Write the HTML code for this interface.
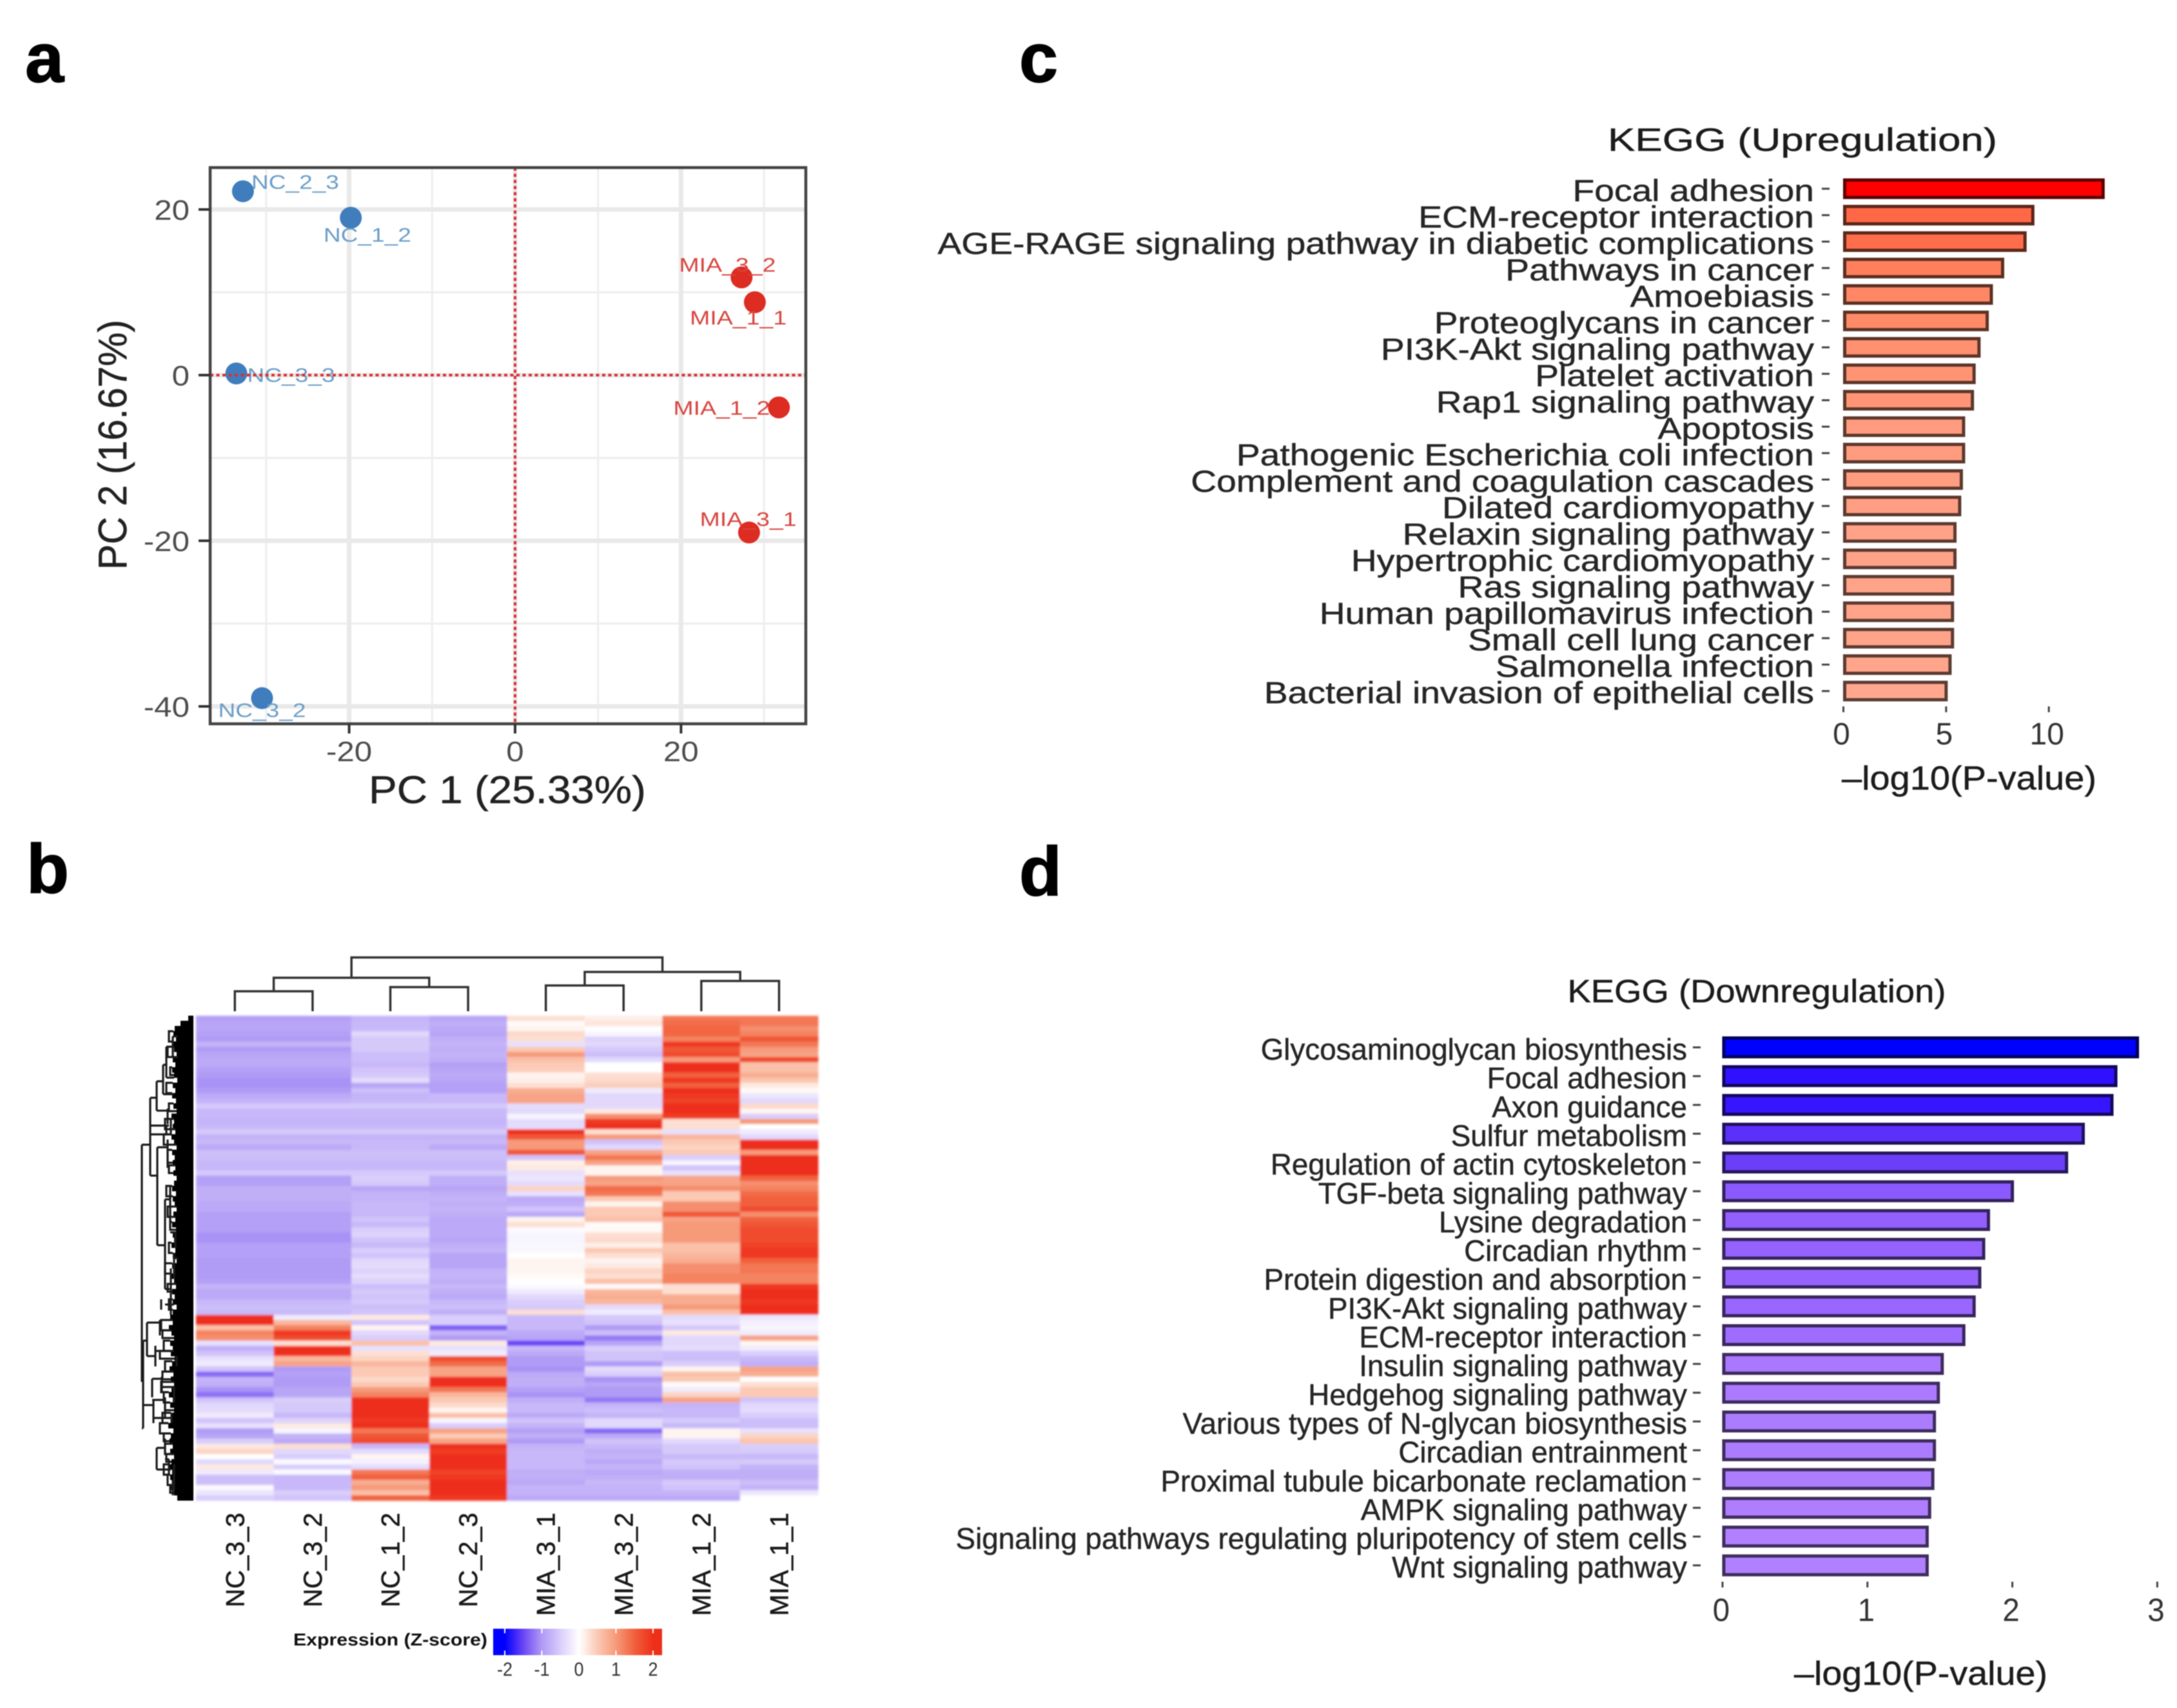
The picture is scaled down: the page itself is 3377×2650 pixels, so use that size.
<!DOCTYPE html>
<html lang="en">
<head>
<meta charset="utf-8">
<title>PCA, heatmap and KEGG enrichment figure</title>
<style>
html,body{margin:0;padding:0;background:#fff;}
svg{display:block;font-family:"Liberation Sans",Arial,sans-serif;}
#figure-root{filter:blur(0.8px);}
</style>
</head>
<body>
<svg id="figure" width="3377" height="2650" viewBox="0 0 3377 2650" xmlns="http://www.w3.org/2000/svg">
<defs>
<filter id="heat-blur" x="-2%" y="-2%" width="104%" height="104%"><feGaussianBlur stdDeviation="1.6 1.9"/></filter>
<clipPath id="pca-clip"><rect x="326" y="260" width="924" height="863"/></clipPath>
<linearGradient id="legend-gradient" gradientUnits="userSpaceOnUse" x1="765" x2="1027" y1="0" y2="0"></linearGradient>
</defs>
<rect width="3377" height="2650" fill="#ffffff"/>
<g id="figure-root">
<text transform="translate(39,127) scale(1,1)" font-size="108" font-weight="700" fill="#000" stroke="#000" stroke-width="1.5">a</text>
<text transform="translate(41,1385) scale(1,1)" font-size="108" font-weight="700" fill="#000" stroke="#000" stroke-width="1.5">b</text>
<text transform="translate(1581,127) scale(1,1)" font-size="108" font-weight="700" fill="#000" stroke="#000" stroke-width="1.5">c</text>
<text transform="translate(1581,1389) scale(1,1)" font-size="108" font-weight="700" fill="#000" stroke="#000" stroke-width="1.5">d</text>

<g id="panel-a">
<g id="pca-grid" clip-path="url(#pca-clip)"></g>
<g id="pca-points"></g>
<g id="pca-guides" clip-path="url(#pca-clip)"></g>
<rect x="326" y="260" width="924" height="863" fill="none" stroke="#444" stroke-width="4.5"/>
<g id="pca-axes"></g>
<text x="787" y="1246" text-anchor="middle" font-size="60" fill="#222" stroke="#222" stroke-width=".5" textLength="430" lengthAdjust="spacingAndGlyphs">PC 1 (25.33%)</text>
<text transform="translate(196,690) rotate(-90)" text-anchor="middle" font-size="62" fill="#222" stroke="#222" stroke-width=".5" textLength="388" lengthAdjust="spacingAndGlyphs">PC 2 (16.67%)</text>
</g>

<g id="panel-b">
<g id="heat-cells" filter="url(#heat-blur)"></g>
<g id="col-tree" fill="none" stroke="#333" stroke-width="3.5"></g>
<g id="row-tree" fill="none" stroke="#1c1c1c" stroke-width="3.2"></g>
<g id="col-labels"></g>
<text x="455" y="2553" font-size="27" font-weight="700" fill="#111" textLength="301" lengthAdjust="spacingAndGlyphs">Expression (Z-score)</text>
<rect x="765" y="2527" width="262" height="41" fill="url(#legend-gradient)"/>
<g id="legend-ticks"></g>
</g>

<g id="panel-c">
<text x="2796" y="234" text-anchor="middle" font-size="50" fill="#1c1c1c" stroke="#1c1c1c" stroke-width=".5" textLength="604" lengthAdjust="spacingAndGlyphs">KEGG (Upregulation)</text>
<g id="up-bars"></g>
<g id="up-axis"></g>
<text x="2857" y="1225" font-size="52" fill="#1c1c1c" stroke="#1c1c1c" stroke-width=".5" textLength="395" lengthAdjust="spacingAndGlyphs">–log10(P-value)</text>
</g>

<g id="panel-d">
<text x="2725" y="1555" text-anchor="middle" font-size="50" fill="#1c1c1c" stroke="#1c1c1c" stroke-width=".5" textLength="587" lengthAdjust="spacingAndGlyphs">KEGG (Downregulation)</text>
<g id="down-bars"></g>
<g id="down-axis"></g>
<text x="2783" y="2614" font-size="52" fill="#1c1c1c" stroke="#1c1c1c" stroke-width=".5" textLength="393" lengthAdjust="spacingAndGlyphs">–log10(P-value)</text>
</g>
</g>
</svg>

<script>
/* ---------- Panel a data ---------- */
const pcaSamples = ["NC_2_3","NC_1_2","NC_3_3","NC_3_2","MIA_3_2","MIA_1_1","MIA_1_2","MIA_3_1"];
const pcaPC1 = [-32.8,-19.8,-33.6,-30.5,27.3,28.9,31.8,28.2];
const pcaPC2 = [22.2,19.0,0.2,-39.0,11.8,8.8,-3.9,-19.0];
const pcaGroups = ["NC","NC","NC","NC","MIA","MIA","MIA","MIA"];
const pcaLabelShiftPC1 = [6.3,2.0,6.6,0,-1.7,-2.0,-6.9,-0.1];
const pcaLabelShiftPC2 = [0.3,-2.9,-1.0,-2.3,0.7,-2.7,-0.9,0.8];
const pcaTicksX = [-20,0,20];
const pcaTicksY = [20,0,-20,-40];
const pcaMinorX = [-30,-10,10,30];
const pcaMinorY = [10,-10,-30];

/* ---------- Panel b data ---------- */
const heatSamples = ["NC_3_3","NC_3_2","NC_1_2","NC_2_3","MIA_3_1","MIA_3_2","MIA_1_2","MIA_1_1"];
const heatValues = [
[-.95,-.95,-.75,-.9,.3,.15,1.3,1.3],
[-.9,-.9,-.7,-.8,.05,.25,1.4,1.3],
[-.9,-.9,-.7,-.85,.1,0,1.45,1.1],
[-.95,-.95,-.4,-.9,.35,-.1,1.45,1.2],
[-1,-1,-.55,-.8,.3,-.45,1.2,1.6],
[-.75,-.75,-.55,-.75,-.3,-.4,1.9,1.3],
[-1,-1,-.55,-.8,.5,-.55,1.6,1],
[-.9,-.9,-.65,-.75,1,-.65,1.7,.9],
[-.85,-.85,-.65,-.8,.6,-.4,1,1.75],
[-.85,-.85,-.7,-.95,.5,0,2,.6],
[-.95,-.95,-.6,-.9,.45,0,2,.6],
[-1,-1,-.55,-.85,.1,.3,1.5,.8],
[-1.05,-1.05,-.35,-.9,.15,.35,1.9,.55],
[-1.05,-1.05,-.9,-.95,.3,.45,1.5,.2],
[-1,-1,-.65,-.95,.8,-.2,2,.05],
[-.85,-.85,-.75,-.7,.9,-.4,1.9,-.25],
[-.75,-.75,-.7,-.7,.9,-.4,1.8,-.4],
[-.55,-.55,-.55,-.55,-.35,-.4,2,.35],
[-.7,-.7,-.7,-.7,-.4,.2,2,.1],
[-.7,-.7,-.7,-.7,-.1,1.1,1.85,-.5],
[-.75,-.75,-.75,-.75,-.35,1.9,.3,1],
[-.7,-.7,-.7,-.7,-.35,2,.3,0],
[-.55,-.55,-.55,-.55,2,.3,-.3,-.2],
[-.75,-.75,-.75,-.75,1.6,1,.7,-.4],
[-.7,-.7,-.7,-.7,1,-.6,.5,2],
[-.85,-.85,-.7,-.85,1,-.4,.4,2],
[-.65,-.65,-.65,-.65,1.6,.9,.5,1],
[-.65,-.65,-.65,-.65,-.6,1.3,-.5,2],
[-.7,-.7,-.7,-.7,.15,.9,-.1,2],
[-.7,-.7,-.7,-.7,.2,.1,-.6,2],
[-.55,-.55,-.55,-.55,-.3,.1,-.3,2],
[-.95,-.95,-.5,-.8,-.25,1,.9,1.5],
[-.95,-.95,-.55,-.8,-.35,.9,.9,1.1],
[-.8,-.8,-.9,-.9,.4,1.4,1.1,1.2],
[-.8,-.8,-.75,-.8,-.3,1.3,.5,1.4],
[-.8,-.8,-.75,-.75,-.85,.5,.5,1.5],
[-.85,-.85,-.7,-.8,-.8,.1,1.1,1.5],
[-.85,-.85,-.7,-.75,-.6,.5,1.1,1.7],
[-.95,-.95,-.7,-.8,-.85,.5,1.6,1.1],
[-.95,-.95,-.6,-.85,.1,.6,.9,1.5],
[-.95,-.95,-.7,-.85,.3,.05,1,1.6],
[-.95,-.95,-.5,-.85,-.05,.05,1,1.7],
[-1.05,-1.05,-.45,-.85,-.1,.3,1,1.7],
[-1.05,-1.05,-.6,-.9,-.1,.35,1,1.7],
[-.95,-.95,-.7,-.8,-.08,.15,.6,1.8],
[-.95,-.95,-.5,-.75,-.08,.5,.6,1.9],
[-.95,-.95,-.6,-.9,0,.3,.7,1.9],
[-1,-1,-.4,-.9,.1,.1,.8,1.5],
[-1,-1,-.35,-.9,.1,.2,1.1,1.3],
[-1,-1,-.45,-.75,.1,.4,1.1,1.3],
[-1,-1,-.35,-.75,.05,.3,1.2,1.2],
[-.95,-.95,-.45,-.8,0,.6,1.2,1.2],
[-.75,-.75,-.65,-.7,-.05,.05,.3,1.9],
[-.85,-.85,-.55,-.8,-.2,.7,.3,2],
[-.85,-.85,-.6,-.85,-.4,.8,.8,2],
[-.7,-.7,-.55,-.7,-.5,.7,.8,1.9],
[-.65,-.65,-.65,-.65,-.55,-.35,1,2],
[-.7,-.7,-.6,-.8,.3,-.2,.6,2],
[2,-.2,.2,-.5,-.7,-.55,-.35,-.25],
[2,.7,-.6,-.5,-.7,-.6,-.3,-.15],
[.6,1.2,.1,-1.35,-.7,-1,-.55,-.1],
[1.2,1.9,-.4,-.75,-.85,-.65,.2,-.2],
[1.1,1.7,-.5,-1,-.9,-1.2,-.4,.9],
[-.3,.3,.6,.2,-1.5,-.9,-.4,.1],
[-.8,2,-.3,-.3,-.7,-.5,-.35,-.2],
[-.6,2,.3,-.2,-.85,-.6,-.65,-.5],
[-.3,.7,.4,1.7,-1,-.6,-.65,-.7],
[-.2,.9,.7,1.4,-1,-1,-.5,-.8],
[-.6,-1,.5,.9,-1.05,-.35,.1,.9],
[-1.3,-.95,.5,.9,-.85,-.5,.6,.8],
[-.75,-1,.35,2,-.8,-1.05,.5,0],
[-.8,-1,.5,2,-.8,-.9,.05,.3],
[-1.05,-.9,1,1.3,-.95,-1,-.2,.5],
[-1.25,-.9,1.2,.7,-1.05,-1,.4,.5],
[-.6,-.5,2,.5,-.8,-1.2,.9,-.6],
[-.4,-.55,2,.35,-.7,-.75,-.75,-.4],
[-.35,-.55,2,.1,-.7,-.65,-.7,-.35],
[-.2,-.7,2,.6,-.85,-.75,-.7,-.5],
[-.6,-.45,1.9,-.1,-.6,-.4,-.55,-.65],
[-.3,.2,2,-.5,-.75,-.4,-.7,-.65],
[-1,-.1,1.3,.9,-.95,-1.3,.1,-.3],
[-.9,-.75,1.6,.5,-.8,-.85,.1,.4],
[-.5,-.85,1.7,.9,-1,-.6,-.4,.55],
[.2,.3,-.7,2,-.75,-.7,-.55,-.5],
[.4,-.4,-.35,1.85,-.7,-.8,-.55,-.55],
[0,-.5,.1,2,-.7,-.75,-.7,-.7],
[-.4,-.05,-.15,2,-.7,-.85,-.55,-.55],
[.2,-.5,-.35,2,-.7,-.75,-.6,-.75],
[-.2,-.05,1.3,1.8,-.8,-.85,-.8,-.8],
[-.65,-.7,1.5,1.9,-.8,-.8,-.8,-.8],
[-.65,-.7,.8,2,-.85,-.7,-.55,-.65],
[-.05,-.7,1,2,-.75,-.75,-.6,-.75],
[-.25,-.5,.6,2,-.75,-.75,-.75,-.25],
[-.5,-.6,1.5,1.9,-.85,-.85,-.85,0]
];
const legendTicks = [-2,-1,0,1,2];
/* column tree: leaf indexes 0-7, merged nodes numbered from 8 upward, heights in tree units */
const colMergeLeft = [0,2,8,4,6,11,10];
const colMergeRight = [1,3,9,5,7,12,13];
const colMergeHeight = [31,37.5,52,40,47,61,83.5];
/* row tree: depth = distance from heatmap edge, positions in row units */
const rowLeafDepth = [8,20,29,31,27,32,30,26,32,28,33,30,25,32,28,33,27,31,26,34,30,32,28,34,30,26,33,29,32,28,31,26,30,33,27,32,29,26,31,28,33,27,32,30,34,28,32,26,33,29,34,30,27,33,29,32,26,32,36,32,38,34,30,36,32,35,29,33,37,31,35,30,34,38,32,36,30,35,33,39,31,35,37,32,36,30,34,39,33,36,31,35,30,25];
const rowTreeDepth = [80,67,57,47,42,32,40,56,40,44,36,35,30,78,72,52,59,64,49,62,44,57,44,32,35,36,28,26,30,34,38,30,42,50];
const rowTreeTop = [25,15.9,12.7,9.5,6,4,18,25.5,24,35.6,33,49,46,63,59.5,59,64,70.4,70,74.5,74,83.8,82,90,20,38,42,66,72,77,86,87,21.3,55];
const rowTreeBottom = [71,31,18.4,15.2,12,8,21,44.5,29.5,53,40,58,51,80,66,62,68,74,73,79,78,88,85,93,23.2,41,45,68,75,79,89,92,23.2,57];
const treeLinkRow = [25,15.9,12.7,9.5,6,12,15.2,18.4,31,25.5,44.5,35.6,53,63,59.5,66,70.4,74.5,80,75.5,83.8,88,4,8,23,42,47,65,72,78,86,91,21.3,56];
const treeLinkFrom = [80,67,57,47,42,42,47,57,67,56,56,44,44,78,72,72,64,64,80,78,57,57,32,32,67,36,30,59,49,62,44,35,67,44];
const treeLinkTo = [67,57,47,42,32,30,30,40,56,40,44,36,35,72,52,59,49,44,78,62,44,35,24,24,38,26,24,30,30,34,38,30,38,30];
/* short twigs just outside the solid leaf block, in row units and depth units */
const twigRow = [3,6,10,13,17,20,23,26,29,33,37,40,44,48,52,55,59,61,63,65,67,69,71,73,75,77,79,81,83,85,87,89,91];
const twigDepth = [38,40,36,42,38,44,46,40,38,42,40,36,38,44,40,38,50,48,46,52,44,48,50,46,44,48,52,46,44,42,46,40,36];
const twigSpan = [2,2,1.5,2,1.5,2,2,2.5,1.5,2,2,1.5,2,2,1.5,2,2,1.5,2,1.5,2,1.5,2,2,1.5,2,2,1.5,2,1.5,2,2,1.5];

/* ---------- Panel c data ---------- */
const upTerms = ["Focal adhesion","ECM-receptor interaction","AGE-RAGE signaling pathway in diabetic complications","Pathways in cancer","Amoebiasis","Proteoglycans in cancer","PI3K-Akt signaling pathway","Platelet activation","Rap1 signaling pathway","Apoptosis","Pathogenic Escherichia coli infection","Complement and coagulation cascades","Dilated cardiomyopathy","Relaxin signaling pathway","Hypertrophic cardiomyopathy","Ras signaling pathway","Human papillomavirus infection","Small cell lung cancer","Salmonella infection","Bacterial invasion of epithelial cells"];
const upValues = [12.64,9.22,8.84,7.75,7.2,7.0,6.6,6.36,6.28,5.85,5.85,5.74,5.66,5.43,5.43,5.31,5.31,5.31,5.19,5.0];
const upTicks = [0,5,10];

/* ---------- Panel d data ---------- */
const downTerms = ["Glycosaminoglycan biosynthesis","Focal adhesion","Axon guidance","Sulfur metabolism","Regulation of actin cytoskeleton","TGF-beta signaling pathway","Lysine degradation","Circadian rhythm","Protein digestion and absorption","PI3K-Akt signaling pathway","ECM-receptor interaction","Insulin signaling pathway","Hedgehog signaling pathway","Various types of N-glycan biosynthesis","Circadian entrainment","Proximal tubule bicarbonate reclamation","AMPK signaling pathway","Signaling pathways regulating pluripotency of stem cells","Wnt signaling pathway"];
const downValues = [2.863,2.714,2.687,2.489,2.374,2.0,1.835,1.802,1.775,1.736,1.665,1.516,1.489,1.462,1.462,1.451,1.429,1.412,1.412];
const downTicks = [0,1,2,3];

/* ---------- Helpers ---------- */
const NS = "http://www.w3.org/2000/svg";
function node(tag, parent, attrs) {
  const e = document.createElementNS(NS, tag);
  for (const k in attrs) e.setAttribute(k, attrs[k]);
  parent.appendChild(e);
  return e;
}
function hexRgb(h) { return [parseInt(h.slice(1,3),16),parseInt(h.slice(3,5),16),parseInt(h.slice(5,7),16)]; }
function ramp(domain, colors) {
  return function (v) {
    if (v <= domain[0]) return colors[0];
    for (let i = 1; i < domain.length; i++) {
      if (v <= domain[i]) {
        const t = (v - domain[i-1]) / (domain[i] - domain[i-1]);
        const a = hexRgb(colors[i-1]), b = hexRgb(colors[i]);
        return "rgb(" + a.map((c,j) => Math.round(c + (b[j]-c)*t)).join(",") + ")";
      }
    }
    return colors[colors.length-1];
  };
}
function darken(c, f) {
  const m = c.startsWith("#") ? hexRgb(c) : c.match(/\d+/g).map(Number);
  return "rgb(" + m.map(x => Math.round(x*f)).join(",") + ")";
}
const heatDomain = [-2,-1.5,-1,-.75,-.5,-.25,0,.5,1,1.5,2];
const heatColors = ["#0000ff","#6a45f5","#b09bf5","#c4b3f8","#d9cefb","#ece6fd","#ffffff","#fbc9b4","#f69a7a","#f1603c","#ee2f1a"];
const heatColor = ramp(heatDomain, heatColors);
const upColor = ramp([5,7,9,10,12.64],["#ffa88f","#ff8a68","#ff6c4a","#ff5a38","#ff0000"]);
const downColor = ramp([1.41,1.8,2,2.4,2.7,2.86],["#b080ff","#9561ff","#8b5aff","#6a3cf8","#3513ff","#0000ff"]);

/* ---------- Panel a ---------- */
const pcaX = v => 799 + v * 12.87;
const pcaY = v => 582 - v * 12.85;
const pcaGrid = document.getElementById("pca-grid");
pcaMinorX.forEach(v => {
  const l = node("line", pcaGrid, {x1:pcaX(v),x2:pcaX(v),y1:260,y2:1123,stroke:"#eeeeee","stroke-width":3});
  
  
});
pcaMinorY.forEach(v => {
  const l = node("line", pcaGrid, {x1:326,x2:1250,y1:pcaY(v),y2:pcaY(v),stroke:"#eeeeee","stroke-width":3});
  
  
});
pcaTicksX.forEach(v => {
  const l = node("line", pcaGrid, {x1:pcaX(v),x2:pcaX(v),y1:260,y2:1123,stroke:"#e9e9e9","stroke-width":7});
  
  
});
pcaTicksY.forEach(v => {
  const l = node("line", pcaGrid, {x1:326,x2:1250,y1:pcaY(v),y2:pcaY(v),stroke:"#e9e9e9","stroke-width":7});
  
  
});
const pcaPointsG = document.getElementById("pca-points");
pcaSamples.forEach((s,i) => {
  const isNC = pcaGroups[i] === "NC";
  const p = node("circle", pcaPointsG, {cx:pcaX(pcaPC1[i]),cy:pcaY(pcaPC2[i]),r:17,fill:isNC?"#3f7dbd":"#dd2c22"});
  
  
  const t = node("text", pcaPointsG, {x:pcaX(pcaPC1[i]+pcaLabelShiftPC1[i]),y:pcaY(pcaPC2[i]+pcaLabelShiftPC2[i]),"text-anchor":"middle","font-size":31,fill:isNC?"#6b9dc8":"#d8443e",textLength:isNC?136:150,lengthAdjust:"spacingAndGlyphs"});
  t.textContent = s;
  
  
});
const guides = document.getElementById("pca-guides");
const gv = node("line", guides, {x1:pcaX(0),x2:pcaX(0),y1:260,y2:1123,stroke:"#de2d32","stroke-width":4,"stroke-dasharray":"5 4.5"});


const gh = node("line", guides, {x1:326,x2:1250,y1:pcaY(0),y2:pcaY(0),stroke:"#de2d32","stroke-width":4,"stroke-dasharray":"5 4.5"});


const pcaAxes = document.getElementById("pca-axes");
pcaTicksX.forEach(v => {
  const l = node("line", pcaAxes, {x1:pcaX(v),x2:pcaX(v),y1:1123,y2:1138,stroke:"#333","stroke-width":4});
  
  
  const t = node("text", pcaAxes, {transform:"translate("+pcaX(v)+",1181) scale(1.12,1)","text-anchor":"middle","font-size":44,fill:"#4d4d4d"});
  t.textContent = String(v);
  
  
});
pcaTicksY.forEach(v => {
  const l = node("line", pcaAxes, {x1:308,x2:326,y1:pcaY(v),y2:pcaY(v),stroke:"#333","stroke-width":4});
  
  
  const t = node("text", pcaAxes, {transform:"translate(294,"+(pcaY(v)+16)+") scale(1.12,1)","text-anchor":"end","font-size":44,fill:"#4d4d4d"});
  t.textContent = String(v);
  
  
});

/* ---------- Panel b ---------- */
const heatLeft = 304, colStep = 120.6, heatTop = 1576, rowStep = 8;
const colX = i => heatLeft + i * colStep;
const colCenter = i => colX(i) + colStep / 2;
const rowY = r => heatTop + r * rowStep;
const cellsG = document.getElementById("heat-cells");
heatValues.forEach((row, r) => {
  row.forEach((z, c) => {
    const cell = node("rect", cellsG, {x:colX(c),y:rowY(r),width:colStep+0.5,height:rowStep+0.5,fill:heatColor(z),"shape-rendering":"crispEdges"});
    
    
  });
});
const colLabelsG = document.getElementById("col-labels");
heatSamples.forEach((s,i) => {
  const t = node("text", colLabelsG, {transform:"translate("+(colCenter(i)+14)+",2347) rotate(-90)","text-anchor":"end","font-size":40,fill:"#1a1a1a",stroke:"#1a1a1a","stroke-width":.6});
  t.textContent = s;
  
  
});
/* column dendrogram */
const colTreeBase = 1569;
const colTreeY = h => colTreeBase - h;
const colTree = document.getElementById("col-tree");
const treeNodes = heatSamples.map((s,i) => ({x:colCenter(i),h:0}));
colMergeHeight.forEach((h,m) => {
  const a = treeNodes[colMergeLeft[m]], b = treeNodes[colMergeRight[m]];
  const pth = node("path", colTree, {d:"M"+a.x+" "+colTreeY(a.h)+"V"+colTreeY(h)+"H"+b.x+"V"+colTreeY(b.h)});
  
  
  treeNodes.push({x:(a.x+b.x)/2,h:h});
});
/* row dendrogram */
const rowTreeEdge = 300;
const depthX = d => rowTreeEdge - d;
const rowTree = document.getElementById("row-tree");
rowLeafDepth.forEach((d,r) => {
  const l = node("line", rowTree, {x1:depthX(d),x2:rowTreeEdge,y1:rowY(r)+4,y2:rowY(r)+4,"stroke-width":8.4,stroke:"#000"});
  
  
});
twigRow.forEach((r,i) => {
  const pth = node("path", rowTree, {d:"M"+depthX(rowLeafDepth[Math.floor(r)])+" "+rowY(r)+"H"+depthX(twigDepth[i])+"V"+rowY(r+twigSpan[i])+"H"+depthX(rowLeafDepth[Math.min(93,Math.floor(r+twigSpan[i]))])});
  
  
});
rowTreeDepth.forEach((d,i) => {
  const l = node("line", rowTree, {x1:depthX(d),x2:depthX(d),y1:rowY(rowTreeTop[i]),y2:rowY(rowTreeBottom[i])});
  
  
});
treeLinkRow.forEach((r,i) => {
  const l = node("line", rowTree, {x1:depthX(treeLinkFrom[i]),x2:depthX(treeLinkTo[i]),y1:rowY(r),y2:rowY(r)});
  
  
});
/* legend */
const legendX = z => 898 + z * 57.5;
const grad = document.getElementById("legend-gradient");
const legendMinZ = (765 - 898) / 57.5, legendMaxZ = (1027 - 898) / 57.5;
heatDomain.forEach(z => {
  const st = node("stop", grad, {offset:Math.max(0,Math.min(1,(z-legendMinZ)/(legendMaxZ-legendMinZ))),"stop-color":heatColor(z)});
  
  
});
const legendG = document.getElementById("legend-ticks");
legendTicks.forEach(z => {
  const a = node("line", legendG, {x1:legendX(z),x2:legendX(z),y1:2527,y2:2534,stroke:"#fff","stroke-width":2});
  
  
  const b = node("line", legendG, {x1:legendX(z),x2:legendX(z),y1:2561,y2:2568,stroke:"#fff","stroke-width":2});
  
  
  const t = node("text", legendG, {transform:"translate("+legendX(z)+",2600) scale(.9,1)","text-anchor":"middle","font-size":30,fill:"#333"});
  t.textContent = String(z);
  
  
});

/* ---------- Panel c ---------- */
const upX = v => 2859.5 + v * 31.87;
const upY = i => 292.8 + i * 41.02;
const upBarsG = document.getElementById("up-bars");
upTerms.forEach((term,i) => {
  const fill = upColor(upValues[i]);
  const bar = node("rect", upBarsG, {x:upX(0)+2,y:upY(i)-13.5,width:upX(upValues[i])-upX(0)-2,height:27,fill:fill,stroke:darken(fill,.36),"stroke-width":5});
  
  
  const tick = node("line", upBarsG, {x1:2826,x2:2838,y1:upY(i),y2:upY(i),stroke:"#444","stroke-width":3});
  
  
  const t = node("text", upBarsG, {transform:"translate(2814,"+(upY(i)+19)+") scale(1.175,1)","text-anchor":"end","font-size":47,fill:"#262626",stroke:"#262626","stroke-width":.5});
  t.textContent = term;
  
  
});
const upAxisG = document.getElementById("up-axis");
upTicks.forEach(v => {
  const l = node("line", upAxisG, {x1:upX(v),x2:upX(v),y1:1096,y2:1105,stroke:"#444","stroke-width":3});
  
  
  const t = node("text", upAxisG, {x:upX(v)-3,y:1155,"text-anchor":"middle","font-size":48,fill:"#333"});
  t.textContent = String(v);
  
  
});

/* ---------- Panel d ---------- */
const downX = v => 2672 + v * 224.8;
const downY = i => 1625 + i * 44.65;
const downBarsG = document.getElementById("down-bars");
downTerms.forEach((term,i) => {
  const fill = downColor(downValues[i]);
  const bar = node("rect", downBarsG, {x:downX(0)+2,y:downY(i)-14.5,width:downX(downValues[i])-downX(0)-2,height:29,fill:fill,stroke:darken(fill,.36),"stroke-width":5});
  
  
  const tick = node("line", downBarsG, {x1:2626,x2:2638,y1:downY(i),y2:downY(i),stroke:"#444","stroke-width":3});
  
  
  const t = node("text", downBarsG, {transform:"translate(2617,"+(downY(i)+19)+") scale(.995,1)","text-anchor":"end","font-size":46,fill:"#262626",stroke:"#262626","stroke-width":.5});
  t.textContent = term;
  
  
});
const downAxisG = document.getElementById("down-axis");
downTicks.forEach(v => {
  const l = node("line", downAxisG, {x1:downX(v),x2:downX(v),y1:2454,y2:2463,stroke:"#444","stroke-width":3});
  
  
  const t = node("text", downAxisG, {transform:"translate("+(downX(v)-2)+",2515) scale(.95,1)","text-anchor":"middle","font-size":50,fill:"#333"});
  t.textContent = String(v);
  
  
});
</script>
</body>
</html>
